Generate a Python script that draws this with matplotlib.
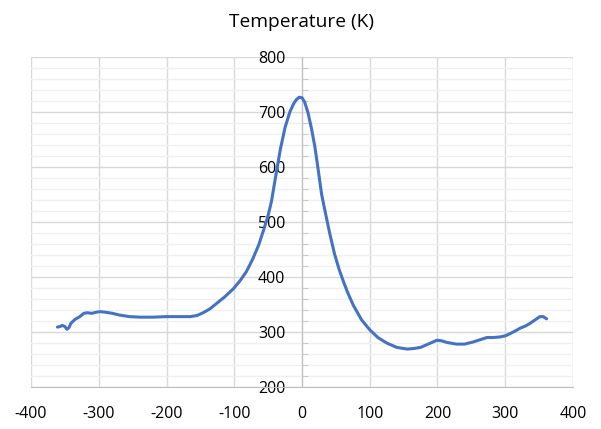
import matplotlib.pyplot as plt
from matplotlib.ticker import MultipleLocator

plt.rcParams['font.family'] = ['Open Sans', 'DejaVu Sans']
plt.rcParams['axes.unicode_minus'] = False

# ===================== data =====================
pos = [-361, -357, -354, -350, -347, -344, -341, -335, -328, -322, -317, -310,
       -304, -298, -290, -280, -270, -255, -239, -220, -200, -182, -165, -155,
       -146, -136, -126, -114, -101, -91, -82, -73, -64, -56, -50, -45, -39,
       -32, -25, -18, -12, -8, -4, 0, 4, 9, 14, 19, 24, 29, 35, 41, 48, 55, 62,
       68, 76, 88, 100, 112, 125, 140, 155, 165, 175, 188, 199, 206, 214, 228,
       240, 253, 263, 273, 283, 292, 300, 307, 315, 322, 330, 337, 344, 351,
       356, 361]
temp = [309, 310, 312, 310, 305, 308, 316, 323, 328, 334, 335, 334, 336, 337,
        336, 334, 331, 328, 327, 327, 328, 328, 328, 330, 335, 342, 352, 364,
        379, 394, 410, 432, 458, 488, 512, 538, 582, 632, 672, 700, 716, 723,
        727, 726, 718, 698, 670, 637, 594, 550, 514, 479, 442, 413, 389, 370,
        348, 322, 304, 290, 280, 272, 269, 270, 272, 279, 285, 284, 281, 278,
        278, 282, 286, 290, 290, 291, 293, 297, 302, 307, 311, 316, 322, 328,
        328, 324]

title = "Temperature (K)"

fig = plt.figure(figsize=(6.01, 4.29), dpi=100)
ax = fig.add_axes([0.0516, 0.0979, 0.9018, 0.7691])

ax.plot(pos, temp, color="#4472C4", linewidth=2.2, solid_capstyle="round",
        solid_joinstyle="round", zorder=3)

ax.set_xlim(-400, 400)
ax.set_ylim(200, 800)
ax.xaxis.set_major_locator(MultipleLocator(100))
ax.yaxis.set_major_locator(MultipleLocator(100))
ax.yaxis.set_minor_locator(MultipleLocator(20))

ax.grid(True, which="major", axis="both", color="#d9d9d9", linewidth=1.0, zorder=0)
ax.grid(True, which="minor", axis="y", color="#f0f0f0", linewidth=1.0, zorder=0)
ax.set_axisbelow(True)

# y axis sits at x=0, x axis at the bottom
ax.spines["left"].set_position(("data", 0))
ax.spines["left"].set_color("#bfbfbf")
ax.spines["bottom"].set_color("#bfbfbf")
ax.spines["top"].set_visible(False)
ax.spines["right"].set_visible(False)

ax.tick_params(axis="x", which="both", length=0, pad=14, labelsize=11.5, labelcolor="black")
ax.tick_params(axis="y", which="major", length=0, pad=12, labelsize=11.5, labelcolor="black")
ax.tick_params(axis="y", which="minor", direction="in", length=4, color="#bfbfbf")

fig.text(0.502, 0.948, title, ha="center", va="center", fontsize=13.8)

fig.savefig("out.png", dpi=100)
